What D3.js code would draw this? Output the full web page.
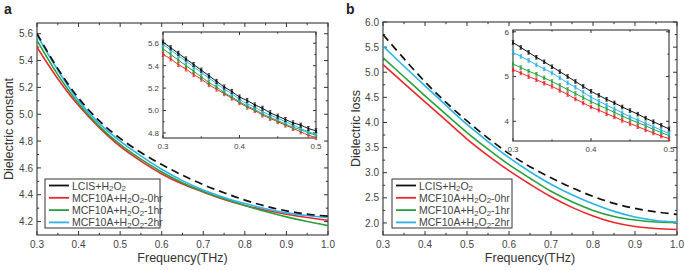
<!DOCTYPE html>
<html>
<head>
<meta charset="utf-8">
<script src="https://cdn.jsdelivr.net/npm/d3@7"></script>
<style>
  body { margin: 0; background: #fff; }
  svg { font-family: "Liberation Sans", Arial, sans-serif; }
</style>
</head>
<body>
<svg id="chart" width="685" height="270"></svg>
<script>
// frequency grids (THz)
var freqMain = [0.30, 0.35, 0.40, 0.45, 0.50, 0.55, 0.60, 0.65, 0.70, 0.75, 0.80, 0.85, 0.90, 0.95, 1.00];
var freqInset = [0.30, 0.31, 0.32, 0.33, 0.34, 0.35, 0.36, 0.37, 0.38, 0.39, 0.40,
                 0.41, 0.42, 0.43, 0.44, 0.45, 0.46, 0.47, 0.48, 0.49, 0.50];

var seriesNames = ["LCIS+H2O2", "MCF10A+H2O2-0hr", "MCF10A+H2O2-1hr", "MCF10A+H2O2-2hr"];
var seriesColors = ["#111111", "#e8282b", "#27a23a", "#2cb3ea"];

// (a) dielectric constant
var constLCIS = [5.60, 5.34, 5.12, 4.95, 4.82, 4.715, 4.625, 4.545, 4.475, 4.415, 4.36, 4.315, 4.28, 4.255, 4.24];
var const0hr  = [5.50, 5.265, 5.065, 4.90, 4.76, 4.65, 4.555, 4.48, 4.42, 4.365, 4.32, 4.285, 4.255, 4.23, 4.21];
var const1hr  = [5.55, 5.295, 5.08, 4.91, 4.775, 4.665, 4.57, 4.49, 4.425, 4.37, 4.32, 4.275, 4.235, 4.20, 4.17];
var const2hr  = [5.59, 5.33, 5.10, 4.93, 4.80, 4.69, 4.59, 4.505, 4.435, 4.38, 4.335, 4.295, 4.265, 4.245, 4.23];

var constInLCIS = [5.61, 5.56, 5.51, 5.46, 5.41, 5.36, 5.31, 5.26, 5.21, 5.17, 5.12, 5.09, 5.05, 5.02, 4.98, 4.95, 4.92, 4.89, 4.87, 4.84, 4.82];
var constIn0hr  = [5.50, 5.46, 5.41, 5.37, 5.32, 5.28, 5.23, 5.19, 5.15, 5.11, 5.07, 5.03, 5.00, 4.96, 4.93, 4.90, 4.87, 4.84, 4.81, 4.78, 4.76];
var constIn1hr  = [5.55, 5.50, 5.45, 5.40, 5.35, 5.30, 5.25, 5.21, 5.16, 5.12, 5.08, 5.04, 5.01, 4.97, 4.94, 4.91, 4.88, 4.85, 4.83, 4.80, 4.78];
var constIn2hr  = [5.59, 5.54, 5.49, 5.44, 5.39, 5.34, 5.29, 5.24, 5.19, 5.15, 5.10, 5.06, 5.03, 4.99, 4.96, 4.93, 4.90, 4.87, 4.84, 4.81, 4.79];
var constErr = 0.018;

// (b) dielectric loss
var lossLCIS = [5.75, 5.27, 4.81, 4.40, 4.03, 3.69, 3.38, 3.12, 2.90, 2.70, 2.53, 2.39, 2.29, 2.22, 2.17];
var loss0hr  = [5.15, 4.78, 4.41, 4.04, 3.67, 3.34, 3.04, 2.77, 2.52, 2.31, 2.14, 2.01, 1.93, 1.89, 1.87];
var loss1hr  = [5.29, 4.91, 4.53, 4.16, 3.80, 3.47, 3.16, 2.89, 2.63, 2.42, 2.25, 2.13, 2.06, 2.02, 2.01];
var loss2hr  = [5.52, 5.12, 4.73, 4.34, 3.96, 3.62, 3.30, 3.02, 2.77, 2.56, 2.38, 2.23, 2.12, 2.05, 2.02];

var lossInLCIS = [5.76, 5.65, 5.54, 5.43, 5.33, 5.22, 5.11, 5.00, 4.89, 4.78, 4.67, 4.58, 4.49, 4.41, 4.32, 4.24, 4.16, 4.07, 3.99, 3.91, 3.83];
var lossIn0hr  = [5.15, 5.08, 5.00, 4.93, 4.85, 4.78, 4.69, 4.60, 4.50, 4.41, 4.32, 4.25, 4.17, 4.10, 4.02, 3.95, 3.88, 3.81, 3.74, 3.67, 3.61];
var lossIn1hr  = [5.28, 5.20, 5.12, 5.05, 4.97, 4.89, 4.80, 4.71, 4.62, 4.53, 4.44, 4.36, 4.28, 4.20, 4.12, 4.04, 3.97, 3.90, 3.82, 3.75, 3.68];
var lossIn2hr  = [5.54, 5.45, 5.36, 5.26, 5.17, 5.08, 4.97, 4.86, 4.76, 4.65, 4.54, 4.45, 4.36, 4.28, 4.19, 4.10, 4.03, 3.95, 3.88, 3.80, 3.73];
var lossErr = 0.04;

var svg = d3.select("#chart");
var frameColor = "#333";
var labelColor = "#444";

function frameAxes(g, x, y, xMajor, xMinor, yMajor, yMinor, fmtX, fmtY, fs, tickLen) {
  var x0 = x.range()[0], x1 = x.range()[1], y0 = y.range()[0], y1 = y.range()[1];
  // ticks, pointing inward on all four sides
  function hTicks(vals, len) {
    vals.forEach(function(v) {
      g.append("line").attr("x1", x(v)).attr("x2", x(v)).attr("y1", y0).attr("y2", y0 - len)
        .attr("stroke", frameColor).attr("stroke-width", 1);
      g.append("line").attr("x1", x(v)).attr("x2", x(v)).attr("y1", y1).attr("y2", y1 + len)
        .attr("stroke", frameColor).attr("stroke-width", 1);
    });
  }
  function vTicks(vals, len) {
    vals.forEach(function(v) {
      g.append("line").attr("x1", x0).attr("x2", x0 + len).attr("y1", y(v)).attr("y2", y(v))
        .attr("stroke", frameColor).attr("stroke-width", 1);
      g.append("line").attr("x1", x1).attr("x2", x1 - len).attr("y1", y(v)).attr("y2", y(v))
        .attr("stroke", frameColor).attr("stroke-width", 1);
    });
  }
  hTicks(xMajor, tickLen); hTicks(xMinor, tickLen * 0.55);
  vTicks(yMajor, tickLen); vTicks(yMinor, tickLen * 0.55);

  g.append("rect").attr("x", x0).attr("y", y1).attr("width", x1 - x0).attr("height", y0 - y1)
    .attr("fill", "none").attr("stroke", frameColor).attr("stroke-width", 1.1);

  g.selectAll(null).data(xMajor).enter().append("text")
    .attr("x", function(d) { return x(d); }).attr("y", y0 + fs + 3)
    .attr("text-anchor", "middle").attr("font-size", fs).attr("fill", labelColor)
    .text(fmtX);
  g.selectAll(null).data(yMajor).enter().append("text")
    .attr("x", x0 - 4).attr("y", function(d) { return y(d) + fs * 0.36; })
    .attr("text-anchor", "end").attr("font-size", fs).attr("fill", labelColor)
    .text(fmtY);
}

function h2o2(textSel, label) {
  // writes "X+H2O2-Y" with small subscripts
  var parts = label.split("H2O2");
  textSel.append("tspan").text(parts[0] + "H");
  textSel.append("tspan").attr("font-size", "0.75em").attr("dy", 1.5).text("2");
  textSel.append("tspan").attr("dy", -1.5).text("O");
  textSel.append("tspan").attr("font-size", "0.75em").attr("dy", 1.5).text("2");
  textSel.append("tspan").attr("dy", -1.5).text(parts[1]);
}

function drawPanel(p) {
  var g = svg.append("g");
  var x = d3.scaleLinear().domain([0.3, 1.0]).range([p.left, p.right]);
  var y = d3.scaleLinear().domain(p.yDomain).range([p.bottom, p.top]);

  frameAxes(g, x, y, d3.range(0.3, 1.001, 0.1), d3.range(0.35, 1.0, 0.1),
    p.yMajor, p.yMinor, d3.format(".1f"), d3.format(".1f"), 10, 4);

  var line = d3.line().x(function(d, i) { return x(freqMain[i]); })
    .y(function(d) { return y(d); }).curve(d3.curveCatmullRom.alpha(0.5));

  var clip = "clip" + p.id;
  g.append("clipPath").attr("id", clip).append("rect")
    .attr("x", p.left).attr("y", p.top).attr("width", p.right - p.left).attr("height", p.bottom - p.top);

  // order: 0hr, 1hr, 2hr, then dashed LCIS on top
  [1, 2, 3, 0].forEach(function(k) {
    g.append("path").datum(p.main[k]).attr("d", line)
      .attr("clip-path", "url(#" + clip + ")")
      .attr("fill", "none").attr("stroke", seriesColors[k])
      .attr("stroke-width", k === 0 ? 1.7 : 1.6)
      .attr("stroke-dasharray", k === 0 ? "8,5" : null);
  });

  // inset
  var xi = d3.scaleLinear().domain([0.3, 0.5]).range([p.inLeft, p.inRight]);
  var yi = d3.scaleLinear().domain(p.inDomain).range([p.inBottom, p.inTop]);
  g.append("rect").attr("x", p.inLeft).attr("y", p.inTop)
    .attr("width", p.inRight - p.inLeft).attr("height", p.inBottom - p.inTop).attr("fill", "#fff");
  frameAxes(g, xi, yi, [0.3, 0.4, 0.5], [0.35, 0.45], p.inMajor, p.inMinor,
    d3.format(".1f"), p.inFmt, 8, 3);

  var lineIn = d3.line().x(function(d, i) { return xi(freqInset[i]); })
    .y(function(d) { return yi(d); }).curve(d3.curveMonotoneX);
  [1, 2, 3, 0].forEach(function(k) {
    var c = seriesColors[k];
    g.append("path").datum(p.inset[k]).attr("d", lineIn)
      .attr("fill", "none").attr("stroke", c).attr("stroke-width", 1);
    var pts = g.append("g").selectAll("g").data(p.inset[k]).enter().append("g");
    pts.append("line")
      .attr("x1", function(d, i) { return xi(freqInset[i]); })
      .attr("x2", function(d, i) { return xi(freqInset[i]); })
      .attr("y1", function(d) { return yi(d - p.err); })
      .attr("y2", function(d) { return yi(d + p.err); })
      .attr("stroke", c).attr("stroke-width", 0.8);
    [-1, 1].forEach(function(s) {
      pts.append("line")
        .attr("x1", function(d, i) { return xi(freqInset[i]) - 1.3; })
        .attr("x2", function(d, i) { return xi(freqInset[i]) + 1.3; })
        .attr("y1", function(d) { return yi(d + s * p.err); })
        .attr("y2", function(d) { return yi(d + s * p.err); })
        .attr("stroke", c).attr("stroke-width", 0.8);
    });
    pts.append("rect")
      .attr("x", function(d, i) { return xi(freqInset[i]) - 1; })
      .attr("y", function(d) { return yi(d) - 1; })
      .attr("width", 2).attr("height", 2).attr("fill", c);
  });

  // legend
  var lg = g.append("g");
  lg.append("rect").attr("x", p.legX).attr("y", 179).attr("width", p.legW).attr("height", 49)
    .attr("fill", "#fff").attr("stroke", frameColor).attr("stroke-width", 1);
  seriesNames.forEach(function(name, k) {
    var ly = 185.5 + k * 12.3;
    lg.append("line").attr("x1", p.legX + 4).attr("x2", p.legX + 24).attr("y1", ly).attr("y2", ly)
      .attr("stroke", seriesColors[k]).attr("stroke-width", 1.8);
    var t = lg.append("text").attr("x", p.legX + 27).attr("y", ly + 4)
      .attr("font-size", 10.5).attr("fill", "#444");
    h2o2(t, name);
  });

  // titles
  g.append("text").attr("x", (p.left + p.right) / 2).attr("y", 262)
    .attr("text-anchor", "middle").attr("font-size", 12.5).attr("fill", "#333").text("Frequency(THz)");
  g.append("text").attr("transform", "translate(" + p.yTitleX + "," + ((p.top + p.bottom) / 2) + ") rotate(-90)")
    .attr("text-anchor", "middle").attr("font-size", 12.5).attr("fill", "#333").text(p.yTitle);
  g.append("text").attr("x", p.letterX).attr("y", 14).attr("font-size", 14).attr("font-weight", "bold")
    .attr("fill", "#222").text(p.letter);
}

drawPanel({
  id: "a", letter: "a", letterX: 4, yTitle: "Dielectric constant", yTitleX: 13,
  left: 37, right: 328, top: 23, bottom: 235, yDomain: [4.1, 5.68],
  yMajor: [4.2, 4.4, 4.6, 4.8, 5.0, 5.2, 5.4, 5.6], yMinor: [4.3, 4.5, 4.7, 4.9, 5.1, 5.3, 5.5],
  main: [constLCIS, const0hr, const1hr, const2hr],
  inLeft: 163, inRight: 316, inTop: 32, inBottom: 138, inDomain: [4.755, 5.7],
  inMajor: [4.8, 5.0, 5.2, 5.4, 5.6], inMinor: [4.9, 5.1, 5.3, 5.5], inFmt: d3.format(".1f"),
  inset: [constInLCIS, constIn0hr, constIn1hr, constIn2hr], err: constErr,
  legX: 45, legW: 115
});

drawPanel({
  id: "b", letter: "b", letterX: 346, yTitle: "Dielectric loss", yTitleX: 360,
  left: 383, right: 677, top: 22, bottom: 235, yDomain: [1.76, 6.0],
  yMajor: [2.0, 2.5, 3.0, 3.5, 4.0, 4.5, 5.0, 5.5, 6.0], yMinor: [2.25, 2.75, 3.25, 3.75, 4.25, 4.75, 5.25, 5.75],
  main: [lossLCIS, loss0hr, loss1hr, loss2hr],
  inLeft: 513, inRight: 669, inTop: 30, inBottom: 141, inDomain: [3.56, 6.04],
  inMajor: [4, 5, 6], inMinor: [4.5, 5.5], inFmt: d3.format("d"),
  inset: [lossInLCIS, lossIn0hr, lossIn1hr, lossIn2hr], err: lossErr,
  legX: 392, legW: 120
});
</script>
</body>
</html>
